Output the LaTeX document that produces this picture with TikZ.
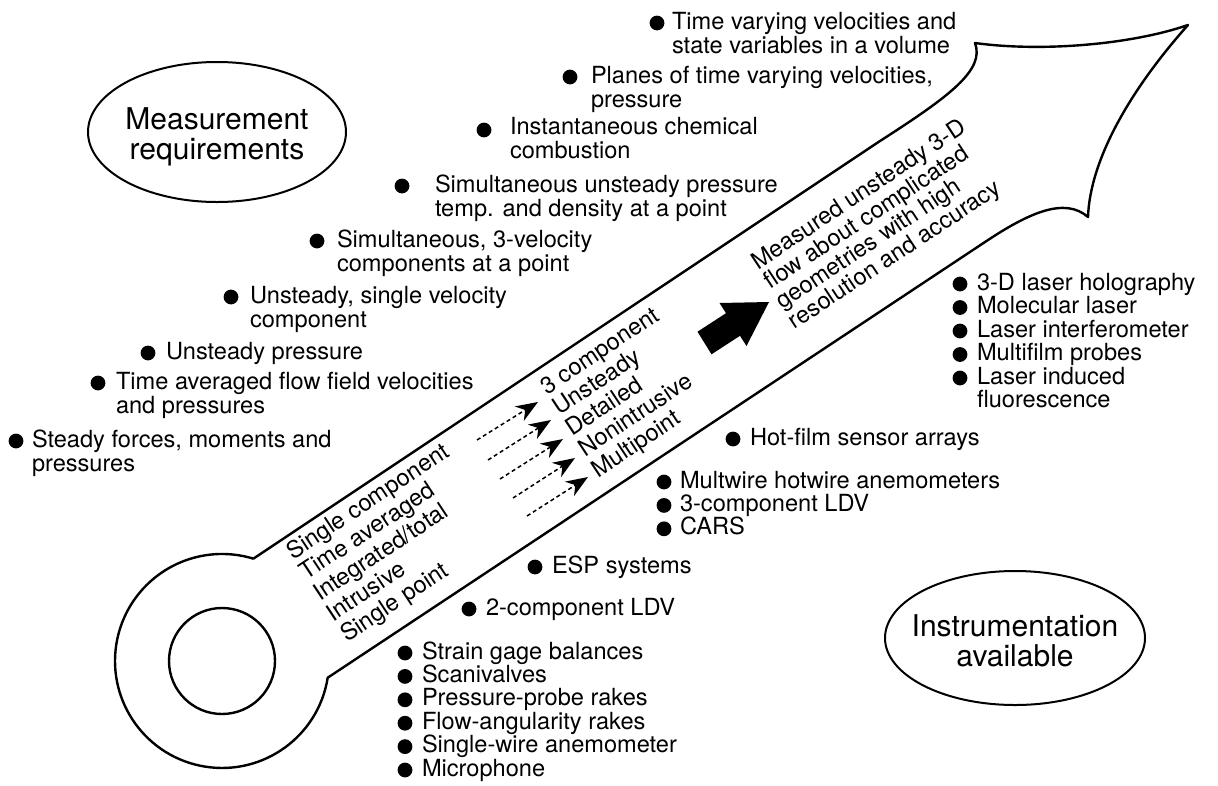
\documentclass[tikz,border=0pt]{standalone}
\usepackage{fontspec}
\setmainfont{TeX Gyre Heros}
\usetikzlibrary{arrows.meta}
\begin{document}
\begin{tikzpicture}[x=1pt,y=-1pt,
  lbl/.style={text=drawColor,anchor=base west,inner sep=0pt,outer sep=0pt,font=\fontsize{23.6}{24}\selectfont},
  rlbl/.style={lbl,rotate=33.5},
  ovtxt/.style={text=drawColor,align=center,inner sep=0pt,outer sep=0pt,font=\fontsize{30}{30}\selectfont},
  oval/.style={draw=drawColor,line width=2pt},
  outline/.style={draw=drawColor,line width=2.4pt,line join=round},
  dot/.style={fill=drawColor},
  dasharw/.style={draw=drawColor,line width=1.5pt,dash pattern=on 4pt off 3pt,-{Stealth[length=22pt,width=17pt,inset=7pt]}}]
\definecolor{drawColor}{rgb}{0.00,0.00,0.00}
\path[use as bounding box,fill=white] (0,0) rectangle (1218,785);

\path[outline] (253.3,558.7) -- (880,141) .. controls (950,96) and (985,70) .. (975,43)
	.. controls (1040,52) and (1130,45) .. (1188,25)
	.. controls (1130,90) and (1090,160) .. (1088,217)
	.. controls (1065,197) and (1030,212) .. (985,242)
	-- (327.7,677.7) arc[start angle=9, end angle=287, radius=107] -- cycle;

\path[outline] (222,661) circle (53);

\draw[oval] (217,132) ellipse [x radius=129, y radius=70];
\node[ovtxt] (req) at (217,137) {Measurement\\requirements};

\draw[oval] (1015,638) ellipse [x radius=130, y radius=67];
\node[ovtxt] (inst) at (1015,641) {Instrumentation\\available};

\path[dot] (16,441) circle (7.4);
\node[lbl] (req1) at (32,447) {Steady forces, moments and};
\node[lbl] (req1b) at (32,471) {pressures};

\path[dot] (98,383) circle (7.4);
\node[lbl] (req2) at (116,389) {Time averaged flow field velocities};
\node[lbl] (req2b) at (116,413) {and pressures};

\path[dot] (148,353) circle (7.4);
\node[lbl] (req3) at (166,359) {Unsteady pressure};

\path[dot] (231,297) circle (7.4);
\node[lbl] (req4) at (250,303) {Unsteady, single velocity};
\node[lbl] (req4b) at (250,327) {component};

\path[dot] (317,241) circle (7.4);
\node[lbl] (req5) at (337,247) {Simultaneous, 3-velocity};
\node[lbl] (req5b) at (337,271) {components at a point};

\path[dot] (402,186) circle (7.4);
\node[lbl] (req6) at (435,192) {Simultaneous unsteady pressure};
\node[lbl] (req6b) at (435,216) {temp. and density at a point};

\path[dot] (484,130) circle (7.4);
\node[lbl] (req7) at (510,134) {Instantaneous chemical};
\node[lbl] (req7b) at (510,158) {combustion};

\path[dot] (570,77) circle (7.4);
\node[lbl] (req8) at (591,83) {Planes of time varying velocities,};
\node[lbl] (req8b) at (591,107) {pressure};

\path[dot] (657,23) circle (7.4);
\node[lbl] (req9) at (672,29) {Time varying velocities and};
\node[lbl] (req9b) at (672,53) {state variables in a volume};

\path[dot] (405,653) circle (7.4);
\node[lbl] (ins1) at (422,659) {Strain gage balances};
\path[dot] (405,676.4) circle (7.4);
\node[lbl] (ins2) at (422,682.4) {Scanivalves};
\path[dot] (405,699.8) circle (7.4);
\node[lbl] (ins3) at (422,705.8) {Pressure-probe rakes};
\path[dot] (405,723.2) circle (7.4);
\node[lbl] (ins4) at (422,729.2) {Flow-angularity rakes};
\path[dot] (405,746.6) circle (7.4);
\node[lbl] (ins5) at (422,752.6) {Single-wire anemometer};
\path[dot] (405,770) circle (7.4);
\node[lbl] (ins6) at (422,776) {Microphone};

\path[dot] (469,609) circle (7.4);
\node[lbl] (ins7) at (486,615) {2-component LDV};

\path[dot] (535,567) circle (7.4);
\node[lbl] (ins8) at (552,573) {ESP systems};

\path[dot] (664,482) circle (7.4);
\node[lbl] (ins9) at (680,488) {Multwire hotwire anemometers};
\path[dot] (664,505.4) circle (7.4);
\node[lbl] (ins10) at (680,511.4) {3-component LDV};
\path[dot] (664,528.8) circle (7.4);
\node[lbl] (ins11) at (680,534.8) {CARS};

\path[dot] (733,439) circle (7.4);
\node[lbl] (ins12) at (750,445) {Hot-film sensor arrays};

\path[dot] (960,284) circle (7.4);
\node[lbl] (ins13) at (977,290) {3-D laser holography};
\path[dot] (960,307.5) circle (7.4);
\node[lbl] (ins14) at (977,313.5) {Molecular laser};
\path[dot] (960,331) circle (7.4);
\node[lbl] (ins15) at (977,337) {Laser interferometer};
\path[dot] (960,354.5) circle (7.4);
\node[lbl] (ins16) at (977,360.5) {Multifilm probes};
\path[dot] (960,378) circle (7.4);
\node[lbl] (ins17) at (977,384) {Laser induced};
\node[lbl] (ins17b) at (977,407.5) {fluorescence};

\node[rlbl] (old1) at (293,560) {Single component};
\node[rlbl] (old2) at (306.5,580.7) {Time averaged};
\node[rlbl] (old3) at (320,601.4) {Integrated/total};
\node[rlbl] (old4) at (333.5,622.1) {Intrusive};
\node[rlbl] (old5) at (347,642.8) {Single point};

\node[rlbl] (new1) at (547,395) {3 component};
\node[rlbl] (new2) at (559.75,415.75) {Unsteady};
\node[rlbl] (new3) at (572.5,436.5) {Detailed};
\node[rlbl] (new4) at (585.25,457.25) {Nonintrusive};
\node[rlbl] (new5) at (598,478) {Multipoint};

\coordinate (ds1) at (477,440);
\coordinate (de1) at (538,402);
\coordinate (ds2) at (488,460);
\coordinate (de2) at (551,420);
\coordinate (ds3) at (500,479);
\coordinate (de3) at (563,439);
\coordinate (ds4) at (513,498);
\coordinate (de4) at (575,458);
\coordinate (ds5) at (527,516);
\coordinate (de5) at (588,477);
\foreach \i in {1,...,5}
  \draw[dasharw] (ds\i) -- (de\i);

\path[fill=drawColor] (697.5,331.7) -- (711.5,354.3) -- (740,335.8) -- (746.5,346) --
	(769,302) -- (719.5,303) -- (726,313.2) -- cycle;

\node[rlbl] (goal1) at (758,270) {Measured unsteady 3-D};
\node[rlbl] (goal2) at (770.3,289.9) {flow about complicated};
\node[rlbl] (goal3) at (782.6,309.8) {geometries with high};
\node[rlbl] (goal4) at (794.9,329.7) {resolution and accuracy};
\end{tikzpicture}
\end{document}
